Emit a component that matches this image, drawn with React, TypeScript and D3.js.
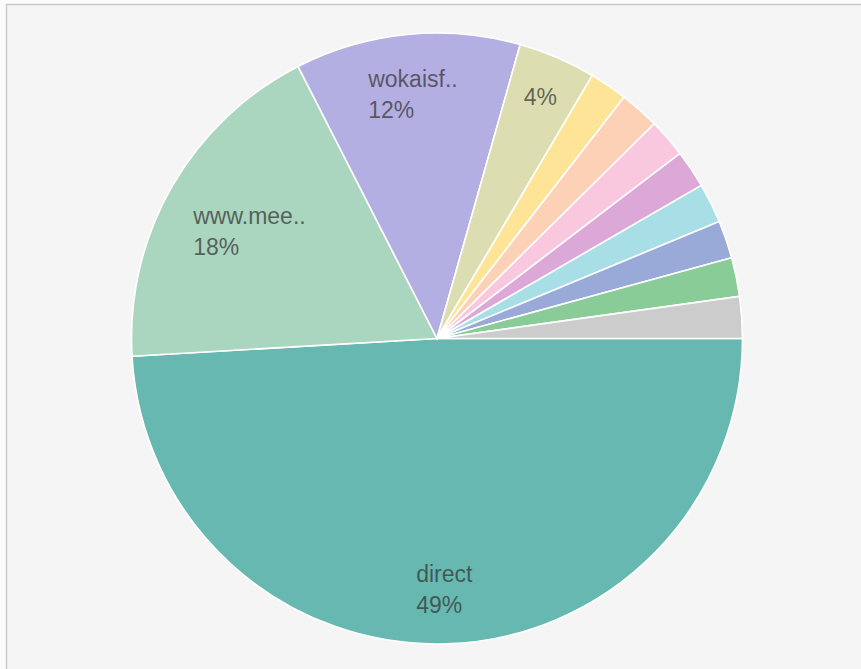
import React from "react";
import * as d3 from "d3";

const categories = [
  "direct",
  "www.mee..",
  "wokaisf..",
  "site 4",
  "site 5",
  "site 6",
  "site 7",
  "site 8",
  "site 9",
  "site 10",
  "site 11",
  "other",
];
const values = [49.05, 18.4, 11.9, 4.1, 2.0, 2.1, 2.05, 2.0, 2.1, 2.0, 2.05, 2.2];
const colors = [
  "#66b8b0",
  "#aad5be",
  "#b3afe2",
  "#dcdeb2",
  "#fde497",
  "#fdd1b5",
  "#fac8de",
  "#dca8d8",
  "#a8dfe6",
  "#99aad8",
  "#89cc97",
  "#cccccc",
];

const W = 861;
const H = 669;
const cx = 437;
const cy = 338.5;
const R = 305.5;
const FONT = "'Liberation Sans', Arial, sans-serif";
const fontSize = 23;
const lineH = 31.6;

let ctx: CanvasRenderingContext2D | null = null;
function measure(t: string): number {
  if (!ctx && typeof document !== "undefined") {
    ctx = document.createElement("canvas").getContext("2d");
  }
  if (!ctx) return t.length * fontSize * 0.55;
  ctx.font = `${fontSize}px ${FONT}`;
  return ctx.measureText(t).width;
}

export default function App() {
  const total = d3.sum(values);
  const pie = d3
    .pie<number>()
    .sort(null)
    .value((d) => d)
    .startAngle(Math.PI / 2)
    .endAngle(Math.PI / 2 + 2 * Math.PI);
  const arcs = pie(values);
  const arc = d3.arc<d3.PieArcDatum<number>>().innerRadius(0).outerRadius(R);
  const rLimit = R - 28.5;
  const capH = fontSize * 0.716;

  return (
    <div style={{ position: "fixed", left: 0, top: 0 }}>
      <svg width={W} height={H} style={{ display: "block" }}>
        <rect x={0} y={0} width={W} height={H} fill="#fbfbfb" />
        <rect
          x={6.5}
          y={4.5}
          width={W + 20}
          height={H + 20}
          fill="#f5f5f5"
          stroke="#c9c9c9"
          strokeWidth={1.5}
        />
        <g transform={`translate(${cx},${cy})`}>
          {arcs.map((a, i) => (
            <path
              key={categories[i]}
              d={arc(a) || ""}
              fill={colors[i]}
              stroke="#ffffff"
              strokeWidth={1.6}
              strokeLinejoin="round"
            />
          ))}
          {arcs.map((a, i) => {
            const pct = (a.data / total) * 100;
            if (pct < 3) return null;
            const lines =
              pct >= 10
                ? [categories[i], `${Math.round(pct)}%`]
                : [`${Math.round(pct)}%`];
            const w = Math.max(...lines.map(measure));
            const h = (lines.length - 1) * lineH + capH;
            const mid = (a.startAngle + a.endAngle) / 2;
            const dx = Math.sin(mid);
            const dy = -Math.cos(mid);
            // push the label box outward along the bisector until its far corner meets rLimit
            let r = rLimit;
            for (let k = 0; k < 30; k++) {
              let far = 0;
              for (const sx of [-1, 1])
                for (const sy of [-1, 1]) {
                  const px = dx * r + (sx * w) / 2;
                  const py = dy * r + (sy * h) / 2;
                  far = Math.max(far, Math.hypot(px, py));
                }
              r -= far - rLimit;
            }
            const bx = dx * r;
            const by = dy * r;
            const left = bx - w / 2;
            const top = by - h / 2;
            return (
              <text
                key={"l" + i}
                fontFamily={FONT}
                fontSize={fontSize}
                fill="#333333"
                fillOpacity={0.72}
              >
                {lines.map((t, j) => (
                  <tspan key={j} x={left} y={top + capH + j * lineH}>
                    {t}
                  </tspan>
                ))}
              </text>
            );
          })}
        </g>
      </svg>
    </div>
  );
}
